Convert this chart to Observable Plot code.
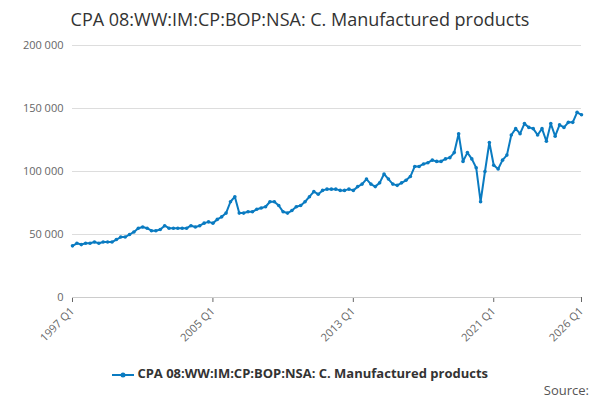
<!DOCTYPE html><html><head><meta charset="utf-8">
<script src="https://cdn.jsdelivr.net/npm/d3@7"></script>
<script src="https://cdn.jsdelivr.net/npm/@observablehq/plot@0.6"></script>
<style>body{margin:0;font-family:"Open Sans",sans-serif;width:600px;height:400px;position:relative;overflow:hidden}
#t{text-align:center;font-size:18px;color:#333;margin-top:7px;height:26px}
#lg{position:absolute;top:364px;left:0;width:600px;text-align:center;font-size:13px;font-weight:bold;color:#333}
#src{position:absolute;top:381px;right:11px;font-size:13px;color:#555}</style></head><body>
<div id="t">CPA 08:WW:IM:CP:BOP:NSA: C. Manufactured products</div>
<div id="c"></div>
<div id="lg"><svg width="22" height="10" style="vertical-align:middle"><line x1="0" y1="5" x2="22" y2="5" stroke="#0a7bc1" stroke-width="2"/><circle cx="11" cy="5" r="2.5" fill="#0a7bc1"/></svg> CPA 08:WW:IM:CP:BOP:NSA: C. Manufactured products</div>
<div id="src">Source:</div>
<script>
const startYear = 1997;
const values = [41,43,42,43,43,44,43,44,44,44,46,48,48,50,52,55,56,55,53,53,54,57,55,55,55,55,55,57,56,57,59,60,59,62,64,67,76,80,67,67,68,68,70,71,72,76,76,73,68,67,69,72,73,76,80,84,82,85,86,86,86,85,85,86,85,88,90,94,90,88,91,98,94,90,89,91,93,96,104,104,106,107,109,108,108,110,111,115,130,108,115,110,103,76,100,123,105,102,109,113,129,134,130,138,135,134,129,134,124,138,128,137,135,139,139,147,145].map(v=>v*1000);
const tickIdx = [0,32,64,96,116];
const data = values.map((v,i)=>({i,v}));
const lab = i => `${startYear+Math.floor(i/4)} Q${i%4+1}`;
const fmt = d => d===0?"0":d3.format(",")(d).replace(/,/g," ");
const chart = Plot.plot({
  width:600,height:326,marginLeft:72,marginRight:19,marginTop:12,marginBottom:62,
  style:{fontFamily:"Open Sans",fontSize:"11px",color:"#666",overflow:"visible"},
  x:{domain:[0,116],ticks:tickIdx,tickFormat:lab,tickRotate:-45,label:null,tickSize:5},
  y:{domain:[0,200000],ticks:[0,50000,100000,150000,200000],tickFormat:fmt,label:null,tickSize:0},
  marks:[
    Plot.gridY([0,50000,100000,150000,200000],{stroke:"#ddd",strokeOpacity:1}),
    Plot.ruleY([0],{stroke:"#ccc"}),
    Plot.line(data,{x:"i",y:"v",stroke:"#0a7bc1",strokeWidth:2}),
    Plot.dot(data,{x:"i",y:"v",fill:"#0a7bc1",r:1.8})
  ]
});
document.getElementById("c").appendChild(chart);
</script></body></html>
